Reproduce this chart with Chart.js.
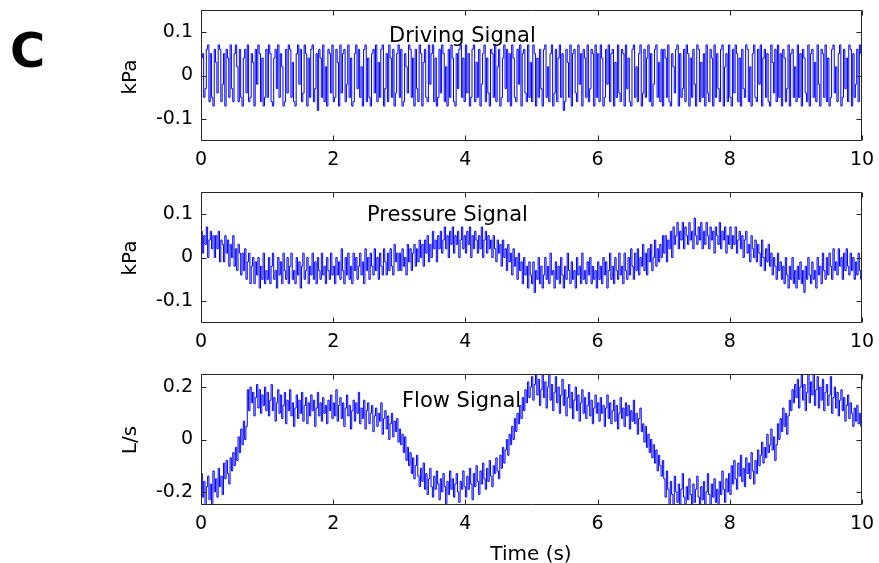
<!DOCTYPE html>
<html>
<head>
<meta charset="utf-8">
<script src="https://cdn.jsdelivr.net/npm/chart.js@4.4.1/dist/chart.umd.min.js"></script>
<style>
  html, body { margin: 0; padding: 0; background: #fff; }
  #wrap { position: relative; width: 879px; height: 563px; overflow: hidden; }
  #wrap canvas { position: absolute; left: 0; }
</style>
</head>
<body>
<div id="wrap">
  <canvas id="drivingChart" width="879" height="180" style="top:0px"></canvas>
  <canvas id="pressureChart" width="879" height="180" style="top:180px"></canvas>
  <canvas id="flowChart" width="879" height="203" style="top:360px"></canvas>
</div>
<script>
// seconds between samples
const sampleInterval = 0.02;

const timeTicks = [0, 2, 4, 6, 8, 10];
const kpaTicks = [-0.1, 0, 0.1];
const flowTicks = [-0.2, 0, 0.2];

// kPa, one row per second
const drivingSignal = [
    0.04, 0.05, -0.05, -0.03, 0.06, 0.07, -0.06, 0.05, -0.05, -0.07, 0.06, 0.03, -0.04, 0.07, 0.06, -0.06, -0.02, 0.05, -0.07, 0.06, 0.04, -0.05, 0.07, -0.03, -0.06,
    0.05, 0.07, 0.02, -0.06, 0.06, -0.05, -0.07, 0.04, 0.06, -0.04, 0.07, -0.06, -0.05, 0.05, 0.03, -0.07, 0.06, -0.02, 0.07, 0.05, -0.06, 0.04, -0.07, -0.05, 0.06,
    -0.05, 0.07, 0.05, -0.06, -0.07, 0.04, 0.06, -0.03, 0.07, -0.05, 0.05, 0.02, -0.07, -0.06, 0.06, -0.04, 0.07, 0.06, -0.05, 0.03, -0.06, -0.07, 0.05, 0.07, -0.02,
    0.06, -0.06, -0.04, 0.07, 0.05, -0.07, 0.04, -0.05, 0.06, 0.07, -0.06, -0.03, 0.05, -0.08, 0.06, 0.04, -0.05, 0.07, -0.06, 0.02, -0.07, 0.06, 0.05, -0.04, 0.07,
    -0.06, -0.05, 0.06, 0.03, -0.07, 0.07, -0.04, 0.05, 0.06, -0.06, -0.02, 0.07, -0.05, 0.04, -0.07, -0.06, 0.05, 0.07, -0.03, 0.06, -0.05, 0.02, -0.07, 0.06, 0.07,
    -0.06, 0.04, -0.05, -0.07, 0.05, 0.06, -0.04, 0.07, -0.06, 0.03, -0.05, 0.06, 0.07, -0.07, -0.03, 0.05, -0.06, 0.07, 0.04, -0.05, 0.06, -0.07, -0.04, 0.05, 0.07,
    -0.05, 0.06, -0.07, -0.06, 0.05, 0.02, -0.04, 0.07, 0.06, -0.05, 0.04, -0.07, 0.06, -0.03, -0.06, 0.07, 0.05, -0.07, 0.03, 0.06, -0.05, -0.06, 0.07, -0.02, 0.05,
    0.07, -0.06, 0.04, -0.07, -0.05, 0.06, -0.04, 0.07, 0.05, -0.06, 0.02, -0.07, 0.06, -0.05, 0.07, 0.04, -0.06, -0.07, 0.05, -0.03, 0.06, 0.07, -0.05, 0.04, -0.06,
    0.07, -0.04, 0.05, -0.07, -0.05, 0.06, 0.07, -0.06, 0.03, -0.05, 0.06, -0.07, -0.02, 0.05, 0.07, -0.06, 0.04, -0.04, -0.07, 0.06, 0.05, -0.05, 0.07, -0.06, 0.02,
    0.06, -0.07, -0.05, 0.04, 0.07, -0.03, 0.06, -0.06, 0.05, -0.07, 0.07, 0.04, -0.05, -0.06, 0.06, -0.02, 0.07, -0.07, 0.05, 0.06, -0.04, -0.06, 0.07, -0.05, 0.03,
    -0.06, 0.07, 0.05, -0.07, 0.04, -0.05, 0.06, -0.03, -0.07, 0.06, 0.07, -0.05, 0.02, -0.06, 0.05, 0.07, -0.07, -0.04, 0.06, -0.06, 0.04, 0.07, -0.05, 0.05, -0.08,
    -0.06, 0.06, 0.03, -0.05, 0.07, -0.07, 0.05, 0.06, -0.04, -0.06, 0.07, -0.02, 0.05, -0.07, 0.06, 0.04, -0.05, 0.07, -0.06, -0.03, 0.06, 0.05, -0.07, 0.07, -0.05,
    0.05, -0.06, 0.07, 0.04, -0.07, -0.05, 0.06, -0.02, 0.07, -0.06, 0.05, 0.06, -0.07, 0.03, -0.05, 0.07, -0.04, -0.06, 0.06, 0.05, -0.07, 0.07, -0.03, 0.04, -0.06,
    -0.07, 0.06, 0.07, -0.05, 0.02, -0.06, 0.05, 0.07, -0.07, -0.04, 0.06, -0.05, 0.04, 0.07, -0.06, 0.05, -0.07, -0.02, 0.06, 0.07, -0.05, 0.03, -0.06, 0.06, -0.07,
    0.06, 0.04, -0.05, 0.07, -0.06, -0.07, 0.05, 0.02, -0.04, 0.06, 0.07, -0.07, 0.05, -0.05, -0.03, 0.06, -0.06, 0.07, 0.05, -0.07, 0.04, -0.05, 0.06, -0.02, -0.07,
    0.07, 0.06, -0.06, 0.03, -0.05, 0.05, -0.07, 0.07, -0.04, -0.06, 0.06, 0.04, -0.07, 0.07, -0.05, 0.05, -0.03, -0.06, 0.06, 0.07, -0.07, 0.02, 0.05, -0.06, 0.07,
    -0.05, -0.07, 0.06, -0.04, 0.07, 0.05, -0.06, 0.04, -0.07, 0.06, -0.03, -0.05, 0.07, 0.06, -0.06, 0.02, -0.07, 0.05, 0.07, -0.05, -0.06, 0.06, -0.02, 0.07, -0.07,
    0.04, 0.06, -0.05, 0.05, -0.06, -0.07, 0.07, 0.03, -0.04, 0.06, -0.06, 0.07, -0.05, 0.05, -0.07, 0.06, 0.04, -0.06, -0.03, 0.07, -0.07, 0.05, 0.06, -0.05, 0.02,
    -0.06, 0.07, -0.05, 0.05, -0.07, 0.06, 0.04, -0.04, -0.06, 0.07, -0.07, 0.05, 0.06, -0.05, 0.03, -0.06, 0.07, -0.02, -0.07, 0.06, 0.05, -0.05, 0.07, -0.06, 0.04,
    -0.07, -0.05, 0.06, 0.07, -0.04, 0.02, -0.06, 0.05, 0.07, -0.07, -0.05, 0.06, -0.03, 0.04, -0.06, 0.07, 0.06, -0.07, 0.05, -0.05, -0.02, 0.06, -0.06, 0.07, 0.05,
    -0.04
];

const pressureSignal = [
    0.06, 0.01, 0.05, 0.03, 0.07, 0.00, 0.04, 0.06, 0.02, 0.05, 0.00, 0.05, 0.02, 0.06, -0.01, 0.04, 0.03, -0.01, 0.05, 0.01, 0.04, -0.02, 0.03, 0.00, 0.05,
    -0.02, 0.02, -0.03, 0.03, 0.01, -0.04, 0.01, -0.03, 0.02, -0.05, -0.01, 0.01, -0.06, -0.02, 0.00, -0.06, -0.01, -0.04, 0.00, -0.07, -0.02, -0.05, 0.01, -0.06, -0.03,
    -0.05, 0.00, -0.06, -0.02, 0.01, -0.05, -0.03, -0.07, 0.00, -0.04, -0.01, -0.06, 0.01, -0.03, -0.05, 0.00, -0.06, -0.02, 0.01, -0.05, -0.03, -0.06, 0.00, -0.04, -0.01,
    -0.07, -0.02, 0.01, -0.05, -0.03, 0.00, -0.06, -0.02, -0.04, 0.01, -0.05, -0.01, -0.06, 0.00, -0.03, -0.05, 0.01, -0.04, -0.02, -0.06, 0.00, -0.03, -0.05, 0.01, -0.04,
    -0.02, -0.06, 0.00, -0.04, -0.01, -0.05, 0.02, -0.03, -0.06, 0.00, -0.04, 0.01, -0.05, -0.02, -0.06, 0.01, -0.03, 0.00, -0.05, -0.02, 0.01, -0.04, -0.01, -0.06, 0.02,
    -0.03, 0.00, -0.05, 0.01, -0.02, -0.04, 0.02, -0.03, 0.00, -0.05, 0.01, -0.02, -0.04, 0.02, -0.01, -0.04, 0.01, -0.03, 0.02, -0.02, -0.04, 0.03, -0.01, 0.01, -0.03,
    0.01, -0.03, 0.02, -0.02, 0.00, -0.04, 0.03, -0.01, 0.02, -0.03, 0.01, 0.03, -0.02, 0.02, -0.01, 0.04, 0.00, 0.03, -0.02, 0.04, 0.01, 0.05, -0.01, 0.03, 0.00,
    0.06, 0.02, 0.04, -0.01, 0.05, 0.02, 0.06, 0.01, 0.04, 0.07, 0.02, 0.05, 0.00, 0.06, 0.03, 0.07, 0.01, 0.05, 0.03, 0.06, 0.00, 0.04, 0.07, 0.02, 0.05,
    0.01, 0.06, 0.03, 0.07, 0.00, 0.05, 0.02, 0.06, 0.04, 0.01, 0.05, 0.02, 0.07, 0.00, 0.04, 0.06, 0.01, 0.05, 0.02, 0.04, 0.00, 0.05, 0.02, -0.01, 0.04,
    0.01, 0.03, -0.02, 0.04, 0.00, 0.02, -0.03, 0.03, -0.01, 0.01, -0.04, 0.02, -0.02, 0.00, -0.05, 0.01, -0.03, -0.01, -0.06, 0.00, -0.04, -0.02, -0.07, -0.01, -0.04,
    -0.06, -0.01, -0.08, -0.03, -0.05, 0.00, -0.06, -0.02, -0.07, -0.04, 0.00, -0.05, -0.02, -0.06, 0.01, -0.04, -0.03, -0.07, -0.01, -0.05, -0.02, -0.06, 0.00, -0.04, -0.07,
    -0.02, -0.05, 0.01, -0.03, -0.06, -0.01, -0.05, -0.03, -0.07, 0.00, -0.04, -0.02, -0.06, 0.01, -0.05, -0.03, -0.06, -0.01, -0.04, 0.00, -0.06, -0.02, -0.05, -0.03, -0.07,
    -0.01, -0.05, -0.02, -0.06, 0.00, -0.04, -0.01, -0.07, -0.03, 0.01, -0.05, -0.02, -0.06, 0.00, -0.03, -0.05, 0.01, -0.04, -0.02, -0.06, 0.01, -0.03, -0.05, 0.00, -0.04,
    0.02, -0.02, -0.05, 0.01, -0.03, 0.02, -0.04, 0.00, -0.02, 0.03, -0.03, 0.01, -0.04, 0.02, -0.01, 0.03, -0.03, 0.00, 0.04, -0.02, 0.02, -0.01, 0.03, 0.00, 0.05,
    0.01, 0.05, -0.01, 0.04, 0.02, 0.06, 0.00, 0.07, 0.03, 0.05, 0.08, 0.02, 0.06, 0.04, 0.08, 0.02, 0.07, 0.05, 0.03, 0.08, 0.04, 0.06, 0.02, 0.09, 0.05,
    0.03, 0.07, 0.04, 0.08, 0.02, 0.06, 0.03, 0.08, 0.05, 0.02, 0.07, 0.04, 0.06, 0.01, 0.07, 0.05, 0.03, 0.08, 0.02, 0.06, 0.04, 0.07, 0.01, 0.05, 0.03,
    0.07, 0.02, 0.05, 0.03, 0.07, 0.01, 0.04, 0.06, 0.02, 0.05, 0.00, 0.04, 0.06, 0.01, 0.03, -0.01, 0.05, 0.02, 0.00, 0.04, -0.01, 0.03, 0.01, -0.02, 0.04,
    0.00, -0.03, 0.02, -0.01, 0.03, -0.02, 0.01, -0.04, 0.00, -0.02, -0.05, 0.01, -0.03, -0.01, -0.05, -0.02, -0.06, 0.00, -0.04, -0.07, -0.02, -0.05, 0.00, -0.06, -0.03,
    -0.07, -0.02, -0.05, -0.01, -0.06, -0.03, -0.08, -0.02, -0.05, 0.00, -0.04, -0.06, -0.01, -0.05, -0.03, -0.07, 0.00, -0.04, -0.02, -0.06, 0.01, -0.03, -0.05, 0.00, -0.04,
    0.01, -0.02, -0.05, 0.02, -0.03, -0.01, -0.04, 0.02, -0.02, 0.00, -0.05, 0.01, -0.03, 0.02, -0.02, -0.04, 0.01, -0.03, 0.00, -0.05, -0.01, -0.04, 0.01, -0.03, -0.05,
    -0.03
];

// L/s
const flowSignal = [
    -0.13, -0.22, -0.16, -0.26, -0.18, -0.14, -0.23, -0.17, -0.25, -0.12, -0.20, -0.15, -0.22, -0.11, -0.18, -0.14, -0.21, -0.09, -0.15, -0.08, -0.13, -0.17, -0.07, -0.12, -0.05,
    -0.10, -0.03, -0.08, 0.01, -0.05, 0.04, -0.02, 0.07, 0.00, 0.05, 0.19, 0.11, 0.20, 0.14, 0.18, 0.09, 0.16, 0.21, 0.12, 0.19, 0.10, 0.17, 0.13, 0.20, 0.11,
    0.18, 0.09, 0.15, 0.21, 0.11, 0.16, 0.07, 0.14, 0.19, 0.10, 0.17, 0.08, 0.13, 0.18, 0.06, 0.15, 0.11, 0.19, 0.09, 0.14, 0.05, 0.12, 0.17, 0.08, 0.15,
    0.10, 0.18, 0.07, 0.13, 0.16, 0.06, 0.14, 0.09, 0.17, 0.11, 0.15, 0.05, 0.12, 0.18, 0.09, 0.14, 0.07, 0.16, 0.10, 0.13, 0.06, 0.15, 0.11, 0.17, 0.08,
    0.14, 0.09, 0.19, 0.07, 0.13, 0.16, 0.08, 0.14, 0.05, 0.12, 0.17, 0.09, 0.13, 0.04, 0.11, 0.15, 0.07, 0.14, 0.10, 0.18, 0.06, 0.12, 0.08, 0.15, 0.04,
    0.11, 0.14, 0.06, 0.10, 0.13, 0.03, 0.09, 0.12, 0.05, 0.10, 0.07, 0.14, 0.02, 0.08, 0.11, 0.04, 0.09, 0.00, 0.06, 0.10, 0.01, 0.07, 0.03, 0.08, -0.01,
    0.04, -0.02, 0.02, -0.05, 0.01, -0.08, -0.03, -0.10, -0.05, -0.13, -0.07, -0.15, -0.10, -0.06, -0.14, -0.18, -0.11, -0.16, -0.09, -0.19, -0.13, -0.21, -0.15, -0.11, -0.18,
    -0.22, -0.14, -0.19, -0.12, -0.17, -0.23, -0.15, -0.20, -0.13, -0.18, -0.25, -0.16, -0.21, -0.12, -0.19, -0.15, -0.22, -0.17, -0.13, -0.20, -0.24, -0.16, -0.19, -0.12, -0.18,
    -0.22, -0.14, -0.19, -0.11, -0.17, -0.23, -0.13, -0.18, -0.10, -0.16, -0.21, -0.12, -0.17, -0.09, -0.15, -0.19, -0.11, -0.16, -0.08, -0.14, -0.18, -0.10, -0.13, -0.07, -0.12,
    -0.15, -0.06, -0.11, -0.03, -0.09, -0.04, 0.00, -0.06, 0.02, -0.02, 0.05, 0.00, 0.08, 0.03, 0.10, 0.06, 0.13, 0.08, 0.16, 0.11, 0.19, 0.14, 0.22, 0.16, 0.20,
    0.24, 0.15, 0.21, 0.26, 0.17, 0.23, 0.13, 0.19, 0.25, 0.16, 0.22, 0.12, 0.20, 0.26, 0.15, 0.21, 0.11, 0.18, 0.24, 0.14, 0.20, 0.10, 0.17, 0.23, 0.13,
    0.19, 0.09, 0.16, 0.21, 0.12, 0.18, 0.08, 0.15, 0.20, 0.11, 0.17, 0.07, 0.14, 0.19, 0.10, 0.16, 0.08, 0.13, 0.18, 0.09, 0.15, 0.06, 0.12, 0.17, 0.10,
    0.14, 0.07, 0.16, 0.10, 0.13, 0.05, 0.12, 0.17, 0.08, 0.14, 0.06, 0.11, 0.15, 0.07, 0.13, 0.04, 0.10, 0.16, 0.08, 0.12, 0.05, 0.14, 0.09, 0.13, 0.04,
    0.11, 0.07, 0.15, 0.06, 0.10, 0.02, 0.08, 0.12, 0.03, 0.06, -0.01, 0.05, -0.03, 0.02, -0.05, 0.00, -0.07, -0.02, -0.09, -0.04, -0.12, -0.06, -0.10, -0.14, -0.08,
    -0.15, -0.22, -0.12, -0.19, -0.25, -0.16, -0.21, -0.26, -0.14, -0.20, -0.24, -0.17, -0.26, -0.19, -0.13, -0.22, -0.25, -0.18, -0.23, -0.15, -0.21, -0.26, -0.17, -0.24, -0.19,
    -0.14, -0.22, -0.26, -0.18, -0.23, -0.16, -0.25, -0.20, -0.13, -0.21, -0.26, -0.17, -0.22, -0.15, -0.24, -0.19, -0.26, -0.16, -0.21, -0.12, -0.19, -0.24, -0.15, -0.20, -0.13,
    -0.21, -0.10, -0.17, -0.08, -0.15, -0.19, -0.09, -0.14, -0.06, -0.16, -0.11, -0.18, -0.07, -0.13, -0.09, -0.15, -0.05, -0.12, -0.17, -0.08, -0.13, -0.04, -0.10, -0.06, -0.01,
    -0.09, -0.03, -0.07, 0.02, -0.05, -0.02, 0.04, -0.04, 0.01, -0.08, -0.02, 0.06, 0.00, 0.08, 0.03, 0.12, 0.05, 0.10, 0.02, 0.09, 0.15, 0.11, 0.19, 0.14, 0.21,
    0.16, 0.23, 0.12, 0.20, 0.26, 0.15, 0.21, 0.11, 0.18, 0.25, 0.14, 0.22, 0.17, 0.26, 0.13, 0.19, 0.24, 0.12, 0.20, 0.15, 0.23, 0.11, 0.18, 0.21, 0.13,
    0.17, 0.24, 0.10, 0.16, 0.20, 0.12, 0.18, 0.09, 0.15, 0.19, 0.11, 0.16, 0.07, 0.13, 0.17, 0.08, 0.14, 0.10, 0.05, 0.12, 0.07, 0.13, 0.06, 0.10, 0.05,
    0.07
];

const fontFamily = "'DejaVu Sans', sans-serif";
const tickFont = { family: fontFamily, size: 19 };

// Box round the plot with inward ticks on all four sides (MATLAB look)
const matlabBox = {
    id: 'matlabBox',
    afterDatasetsDraw(chart) {
        var ctx = chart.ctx;
        var a = chart.chartArea;
        var l = Math.round(a.left) + 0.5, r = Math.round(a.right) - 0.5;
        var t = Math.round(a.top) + 0.5, b = Math.round(a.bottom) - 0.5;
        var len = 5;
        ctx.save();
        ctx.strokeStyle = '#262626';
        ctx.lineWidth = 1;
        ctx.beginPath();
        ctx.rect(l, t, r - l, b - t);
        chart.scales.x.ticks.forEach(tk => {
            var px = Math.round(chart.scales.x.getPixelForValue(tk.value)) + 0.5;
            ctx.moveTo(px, b); ctx.lineTo(px, b - len);
            ctx.moveTo(px, t); ctx.lineTo(px, t + len);
        });
        chart.scales.y.ticks.forEach(tk => {
            var py = Math.round(chart.scales.y.getPixelForValue(tk.value)) + 0.5;
            ctx.moveTo(l, py); ctx.lineTo(l + len, py);
            ctx.moveTo(r, py); ctx.lineTo(r - len, py);
        });
        ctx.stroke();
        ctx.restore();
    }
};

// Free text: panel titles, axis names, the panel letter
const panelText = {
    id: 'panelText',
    afterDatasetsDraw(chart, args, opts) {
        var ctx = chart.ctx;
        (opts.items || []).forEach(item => {
            ctx.save();
            ctx.font = item.font;
            ctx.fillStyle = '#000';
            ctx.textAlign = item.align || 'left';
            ctx.textBaseline = item.baseline || 'alphabetic';
            ctx.translate(item.x, item.y);
            if (item.rotate) ctx.rotate(item.rotate);
            ctx.fillText(item.text, 0, 0);
            ctx.restore();
        });
    }
};

window.loadSignalChart = (canvasId, values, yMin, yMax, yTicks, padTop, xAxisHeight, texts) => {
    var ctx = document.getElementById(canvasId).getContext('2d');

    var points = values.map((v, i) => ({ x: i * sampleInterval, y: v }));

    return new Chart(ctx, {
        type: 'line',
        data: {
            datasets: [{
                data: points,
                borderColor: '#0000ff',
                borderWidth: 1,
                pointRadius: 0,
                stepped: true,
                fill: false
            }]
        },
        options: {
            responsive: false,
            animation: false,
            devicePixelRatio: 1,
            layout: { padding: { top: padTop, right: 17, bottom: 0, left: 0 } },
            plugins: {
                legend: { display: false },
                tooltip: { enabled: false },
                panelText: { items: texts }
            },
            scales: {
                x: {
                    type: 'linear',
                    min: 0,
                    max: 10,
                    grid: { display: false, drawTicks: false },
                    border: { display: false },
                    ticks: { font: tickFont, color: '#000', padding: 8, maxRotation: 0 },
                    afterBuildTicks: axis => { axis.ticks = timeTicks.map(v => ({ value: v })); },
                    afterFit: axis => { axis.height = xAxisHeight; axis.paddingLeft = 0; axis.paddingRight = 0; }
                },
                y: {
                    type: 'linear',
                    min: yMin,
                    max: yMax,
                    grid: { display: false, drawTicks: false },
                    border: { display: false },
                    ticks: {
                        font: tickFont,
                        color: '#000',
                        padding: 8,
                        callback: v => (v === 0 ? '0' : String(v))
                    },
                    afterBuildTicks: axis => { axis.ticks = yTicks.map(v => ({ value: v })); },
                    afterFit: axis => { axis.width = 201; axis.paddingTop = 0; axis.paddingBottom = 0; }
                }
            }
        },
        plugins: [matlabBox, panelText]
    });
};

var titleFont = '21px ' + fontFamily;
var labelFont = '20px ' + fontFamily;
var upright = -Math.PI / 2;

loadSignalChart('drivingChart', drivingSignal, -0.15, 0.15, kpaTicks, 10, 39, [
    { text: 'C', x: 10, y: 67, font: 'bold 48px ' + fontFamily },
    { text: 'kPa', x: 131, y: 77, rotate: upright, align: 'center', baseline: 'middle', font: labelFont },
    { text: 'Driving Signal', x: 389, y: 42, font: titleFont }
]);

loadSignalChart('pressureChart', pressureSignal, -0.15, 0.15, kpaTicks, 12, 37, [
    { text: 'kPa', x: 131, y: 78, rotate: upright, align: 'center', baseline: 'middle', font: labelFont },
    { text: 'Pressure Signal', x: 367, y: 41, font: titleFont }
]);

loadSignalChart('flowChart', flowSignal, -0.25, 0.25, flowTicks, 14, 58, [
    { text: 'L/s', x: 131, y: 80, rotate: upright, align: 'center', baseline: 'middle', font: labelFont },
    { text: 'Flow Signal', x: 402, y: 47, font: titleFont },
    { text: 'Time (s)', x: 531, y: 200, align: 'center', font: labelFont }
]);
</script>
</body>
</html>
